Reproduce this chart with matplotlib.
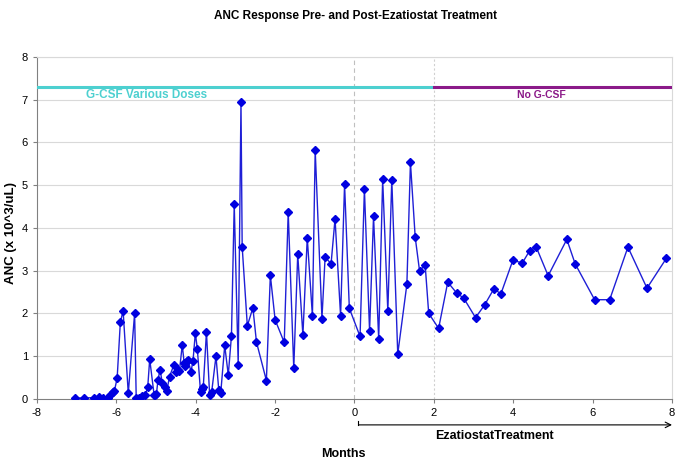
import matplotlib
matplotlib.use("Agg")
import matplotlib.pyplot as plt

plt.rcParams['font.family'] = ['Liberation Sans', 'DejaVu Sans']
plt.rcParams['axes.unicode_minus'] = False

months = [-7.05, -6.82, -6.57, -6.44, -6.34, -6.21, -6.15, -6.09, -6.05, -5.98,
          -5.90, -5.83, -5.70, -5.54, -5.50, -5.43, -5.35, -5.27, -5.21, -5.16,
          -5.05, -5.02, -4.99, -4.95, -4.90, -4.84, -4.78, -4.73, -4.66, -4.55,
          -4.49, -4.45, -4.41, -4.34, -4.29, -4.26, -4.23, -4.19, -4.12, -4.07,
          -4.01, -3.96, -3.88, -3.85, -3.81, -3.73, -3.65, -3.60, -3.49, -3.42,
          -3.37, -3.27, -3.18, -3.10, -3.03, -2.93, -2.86, -2.83, -2.70, -2.56,
          -2.47, -2.22, -2.12, -2.00, -1.77, -1.67, -1.53, -1.43, -1.30, -1.19,
          -1.06, -0.99, -0.82, -0.74, -0.59, -0.49, -0.35, -0.25, -0.13, 0.14,
          0.25, 0.38, 0.48, 0.61, 0.71, 0.84, 0.94, 1.09, 1.32, 1.41,
          1.53, 1.64, 1.78, 1.87, 2.12, 2.35, 2.58, 2.75, 3.05, 3.28,
          3.51, 3.69, 3.99, 4.23, 4.41, 4.58, 4.88, 5.35, 5.56, 6.05,
          6.43, 6.89, 7.37, 7.86]
anc = [0.02, 0.02, 0.03, 0.05, 0.03, 0.02, 0.10, 0.15, 0.18, 0.49,
       1.79, 2.06, 0.13, 2.00, 0.03, 0.03, 0.06, 0.10, 0.27, 0.93,
       0.10, 0.08, 0.12, 0.45, 0.68, 0.37, 0.27, 0.19, 0.52, 0.80,
       0.62, 0.68, 0.66, 1.26, 0.83, 0.78, 0.88, 0.90, 0.64, 0.88,
       1.54, 1.17, 0.17, 0.22, 0.28, 1.57, 0.09, 0.15, 1.00, 0.21,
       0.14, 1.25, 0.56, 1.48, 4.55, 0.80, 6.95, 3.56, 1.71, 2.13,
       1.33, 0.43, 2.89, 1.85, 1.32, 4.37, 0.72, 3.38, 1.49, 3.77,
       1.94, 5.82, 1.88, 3.32, 3.16, 4.21, 1.94, 5.02, 2.12, 1.46,
       4.91, 1.59, 4.27, 1.40, 5.14, 2.05, 5.13, 1.05, 2.68, 5.53,
       3.78, 2.99, 3.14, 2.00, 1.65, 2.73, 2.47, 2.36, 1.90, 2.20,
       2.57, 2.46, 3.24, 3.18, 3.46, 3.55, 2.88, 3.73, 3.16, 2.32,
       2.32, 3.55, 2.59, 3.29]

xticks = [-8, -6, -4, -2, 0, 2, 4, 6, 8]
yticks = [0, 1, 2, 3, 4, 5, 6, 7, 8]
gcsf_level = 7.3
gcsf_end = 2

fig = plt.figure(figsize=(6.85, 4.66), dpi=100)
ax = fig.add_axes([0.054, 0.144, 0.927, 0.734])

ax.set_xlim(-8, 8)
ax.set_ylim(0, 8)
ax.set_xticks(xticks)
ax.set_yticks(yticks)
ax.tick_params(labelsize=8, length=3, color='#808080', labelcolor='black')
for y in yticks[1:]:
    ax.axhline(y, color='#d9d9d9', lw=0.8, zorder=0)
ax.axvline(0, color='#bfbfbf', lw=0.8, ls=(0, (4, 3)), zorder=0)
ax.axvline(gcsf_end, color='#d0d0d0', lw=0.8, ls=(0, (2, 2)), zorder=0)

for s in ['left', 'bottom']:
    ax.spines[s].set_color('#808080')
for s in ['top', 'right']:
    ax.spines[s].set_color('#d9d9d9')

ax.plot([-8, gcsf_end], [gcsf_level, gcsf_level], color='#4dd0d0', lw=2.2, zorder=3)
ax.plot([gcsf_end, 8], [gcsf_level, gcsf_level], color='#8b1a89', lw=2.2, zorder=3)
ax.text(-6.77, 7.1, 'G-CSF Various Doses', color='#4dd0d0', fontsize=8.5,
        fontweight='bold', va='center', ha='left')
ax.text(4.72, 7.1, 'No G-CSF', color='#8b1a89', fontsize=7.5,
        fontweight='bold', va='center', ha='center')

ax.plot(months, anc, color='#1f1fd6', lw=1.0, marker='D', markersize=3.6,
        markerfacecolor='#0000e0', markeredgecolor='#0000e0', zorder=4)

fig.text(355 / 685, 0.966, 'ANC Response Pre- and Post-Ezatiostat Treatment',
         ha='center', va='center', fontsize=8.5, fontweight='bold')
ax.set_ylabel('ANC (x 10^3/uL)', fontsize=9.5, fontweight='bold')
ax.yaxis.set_label_coords(-0.0315, 0.485)
fig.text(343 / 685, 1 - 454 / 466, 'Months', ha='center', va='center',
         fontsize=9, fontweight='bold')

# treatment arrow below the axis
ya = -0.076
ax.annotate('', xy=(8.0, ya), xytext=(0.1, ya),
            xycoords=('data', 'axes fraction'),
            arrowprops=dict(arrowstyle='->', color='black', lw=0.8,
                            shrinkA=0, shrinkB=0), annotation_clip=False)
ax.plot([0.1, 0.1], [ya, ya + 0.012], color='black', lw=0.8,
        transform=ax.get_xaxis_transform(), clip_on=False)
fig.text(494 / 685, 1 - 436 / 466, 'EzatiostatTreatment', ha='center',
         va='center', fontsize=9, fontweight='bold')

fig.savefig('out.png', dpi=100)
